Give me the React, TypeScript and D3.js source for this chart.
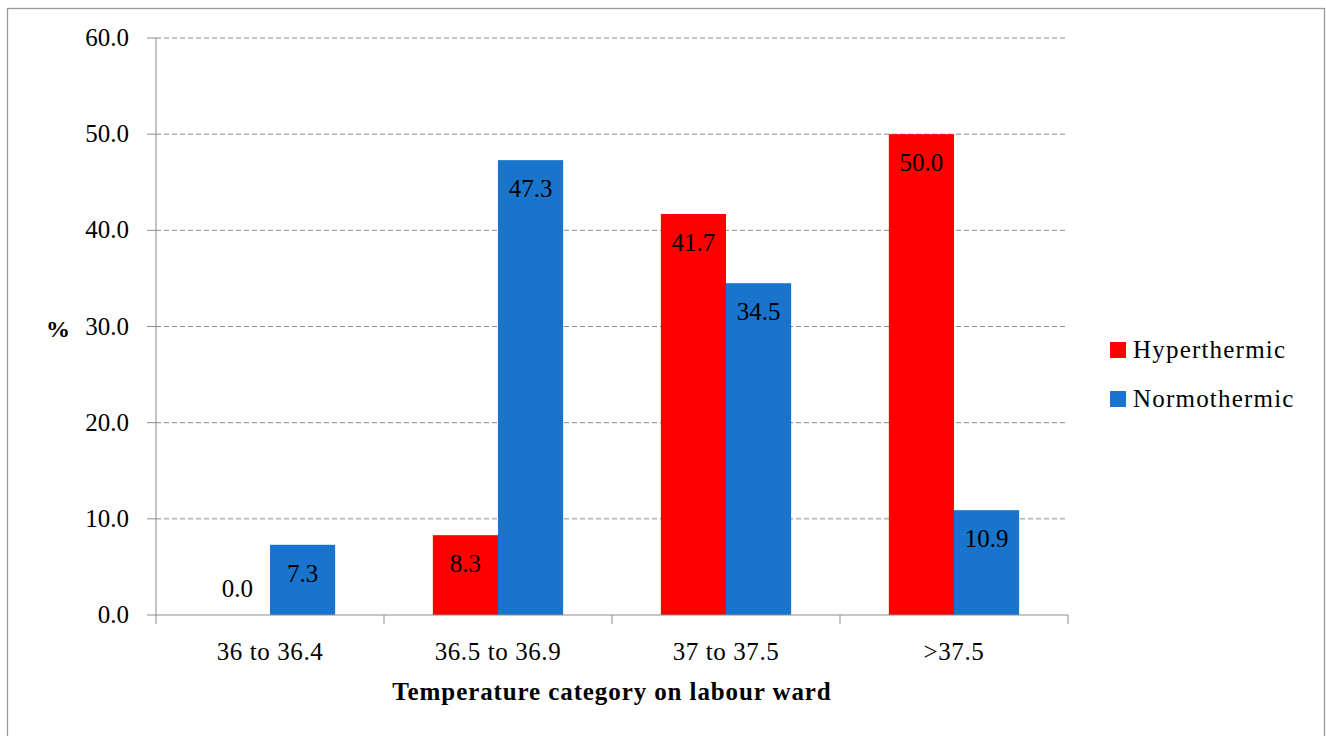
import React from "react";
import * as d3 from "d3";

const categories = ["36 to 36.4", "36.5 to 36.9", "37 to 37.5", ">37.5"];
const seriesNames = ["Hyperthermic", "Normothermic"];
const hyperthermic = [0.0, 8.3, 41.7, 50.0];
const normothermic = [7.3, 47.3, 34.5, 10.9];
const yTicks = [0, 10, 20, 30, 40, 50, 60];
const colors = ["#FF0000", "#1874CD"];

const W = 1326;
const H = 736;
const FONT = "'Liberation Serif', 'Times New Roman', serif";

export default function App() {
  const left = 156, right = 1068, top = 38, bottom = 615;
  const x = d3.scaleBand<string>().domain(categories).range([left, right]).paddingInner(0).paddingOuter(0);
  const inner = d3.scaleBand<string>().domain(seriesNames).range([0, x.bandwidth()]).paddingInner(0).paddingOuter(0.75);
  const y = d3.scaleLinear().domain([0, 60]).range([bottom, top]);
  const series = [hyperthermic, normothermic];

  return (
    <div style={{ position: "absolute", left: 0, top: 0 }}>
      <svg width={W} height={H} style={{ display: "block", fontFamily: FONT }}>
        <rect x={0} y={0} width={W} height={H} fill="#fff" />
        <rect x={7.5} y={8.5} width={1317} height={740} fill="none" stroke="#999" strokeWidth={1.3} />
        {yTicks.map((t) => (
          <g key={t}>
            {t > 0 && (
              <line x1={left} x2={right} y1={y(t)} y2={y(t)} stroke="#8c8c8c" strokeWidth={1} strokeDasharray="5,3" />
            )}
            <line x1={left - 9} x2={left} y1={y(t)} y2={y(t)} stroke="#8c8c8c" strokeWidth={1} />
            <text x={129} y={y(t) + 8} textAnchor="end" fontSize={25} fill="#000">
              {t.toFixed(1)}
            </text>
          </g>
        ))}
        {categories.map((c, i) =>
          seriesNames.map((s, j) => {
            const v = series[j][i];
            const bx = (x(c) as number) + (inner(s) as number);
            const bw = inner.bandwidth();
            const by = y(v);
            const bh = y(0) - y(v);
            const cx = bx + bw / 2;
            const ly = v === 0 ? y(0) - 18 : by + 37;
            return (
              <g key={c + s}>
                {bh > 0 && <rect x={bx} y={by} width={bw} height={bh} fill={colors[j]} />}
                <text x={cx} y={ly} textAnchor="middle" fontSize={25} fill="#000">
                  {v.toFixed(1)}
                </text>
              </g>
            );
          })
        )}
        <line x1={left} x2={left} y1={top} y2={bottom} stroke="#8c8c8c" strokeWidth={1} />
        <line x1={left} x2={right} y1={bottom} y2={bottom} stroke="#8c8c8c" strokeWidth={1} />
        {[...categories.map((c) => x(c) as number), right].map((tx, i) => (
          <line key={i} x1={tx} x2={tx} y1={bottom} y2={bottom + 9} stroke="#8c8c8c" strokeWidth={1} />
        ))}
        {categories.map((c) => (
          <text key={c} x={(x(c) as number) + x.bandwidth() / 2} y={660} textAnchor="middle" fontSize={25} letterSpacing={0.6} fill="#000">
            {c}
          </text>
        ))}
        <text x={(left + right) / 2} y={700} textAnchor="middle" fontSize={25} fontWeight="bold" letterSpacing={0.9} fill="#000">
          Temperature category on labour ward
        </text>
        <text x={58} y={337} textAnchor="middle" fontSize={24} fontWeight="bold" fill="#000">
          %
        </text>
        {seriesNames.map((s, j) => (
          <g key={s}>
            <rect x={1110} y={342 + j * 49} width={16} height={16} fill={colors[j]} />
            <text x={1133} y={358 + j * 49} fontSize={25} letterSpacing={1.2} fill="#000">
              {s}
            </text>
          </g>
        ))}
      </svg>
    </div>
  );
}
